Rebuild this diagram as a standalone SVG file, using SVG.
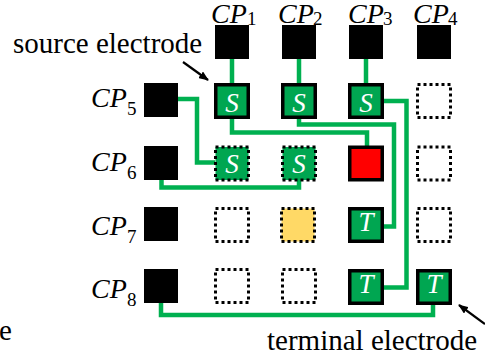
<svg xmlns="http://www.w3.org/2000/svg" width="485" height="358" viewBox="0 0 485 358" font-family="Liberation Serif, Times New Roman, serif">
<style>
.cp{fill:#000}
.lbl{font-style:italic;font-size:28px;fill:#000}
.sub{font-style:normal;font-size:19px;fill:#000}
.txt{font-size:29px;fill:#000}
.el{fill:#00a651;stroke:#000;stroke-width:3.5}
.dot{fill:#fff;stroke:#000;stroke-width:3;stroke-dasharray:3 3}
.dotg{fill:#00a651;stroke:#000;stroke-width:3;stroke-dasharray:3 3}
.doty{fill:#ffd966;stroke:#000;stroke-width:3;stroke-dasharray:3 3}
.red{fill:#ff0000;stroke:#000;stroke-width:3.5}
.st{font-style:italic;font-size:27px;fill:#fff;text-anchor:middle}
.w{fill:none;stroke:#00b050;stroke-width:4.5}
.arr{stroke:#000;stroke-width:2.2;fill:none}
</style>
<defs>
<marker id="ah" markerWidth="10" markerHeight="8" refX="9" refY="4" orient="auto" markerUnits="userSpaceOnUse">
<path d="M0,0 L10,4 L0,8 Z" fill="#000"/>
</marker>
</defs>

<g id="connectors">
<path class="w" d="M232,59 V84"/>
<path class="w" d="M299,59 V84"/>
<path class="w" d="M366,59 V84"/>
<path class="w" d="M178,99 H197 V162.5 H215"/>
<path class="w" d="M232,118 V132.5 H367 V146"/>
<path class="w" d="M299,118 V124.5 H394 V226.5 H383"/>
<path class="w" d="M383,101 H406.5 V287.5 H383"/>
<path class="w" d="M161.5,179 V187.5 H299 V180"/>
<path class="w" d="M161,302 V315 H433 V303"/>
<line class="arr" x1="183" y1="62" x2="208" y2="80" marker-end="url(#ah)"/>
<line class="arr" x1="485" y1="324" x2="459" y2="305" marker-end="url(#ah)"/>
</g>

<g id="CP1"><rect class="cp" x="215" y="25" width="34" height="34"/><text class="lbl" x="211" y="23">CP</text><text class="sub" x="247" y="25">1</text></g>
<g id="CP2"><rect class="cp" x="282" y="25" width="34" height="34"/><text class="lbl" x="278" y="23">CP</text><text class="sub" x="313" y="25">2</text></g>
<g id="CP3"><rect class="cp" x="349" y="25" width="34" height="34"/><text class="lbl" x="348" y="23">CP</text><text class="sub" x="383" y="25">3</text></g>
<g id="CP4"><rect class="cp" x="417" y="25" width="34" height="34"/><text class="lbl" x="413" y="23">CP</text><text class="sub" x="448" y="25">4</text></g>

<g id="CP5"><rect class="cp" x="144" y="83" width="34" height="34"/><text class="lbl" x="91" y="107">CP</text><text class="sub" x="127" y="115">5</text></g>
<g id="CP6"><rect class="cp" x="144" y="146" width="34" height="34"/><text class="lbl" x="91" y="171">CP</text><text class="sub" x="127" y="179">6</text></g>
<g id="CP7"><rect class="cp" x="144" y="207" width="34" height="34"/><text class="lbl" x="91" y="235">CP</text><text class="sub" x="127" y="243">7</text></g>
<g id="CP8"><rect class="cp" x="144" y="269" width="34" height="34"/><text class="lbl" x="91" y="298">CP</text><text class="sub" x="127" y="306">8</text></g>

<g id="S11"><rect class="el" x="215.75" y="84.75" width="32.5" height="32.5"/><text class="st" x="232" y="112">S</text></g>
<g id="S21"><rect class="el" x="282.75" y="84.75" width="32.5" height="32.5"/><text class="st" x="299" y="112">S</text></g>
<g id="S31"><rect class="el" x="349.75" y="84.75" width="32.5" height="32.5"/><text class="st" x="366" y="112">S</text></g>
<g id="E41"><rect class="dot" x="417.5" y="84.5" width="33" height="33"/></g>

<g id="S12"><rect class="dotg" x="215.5" y="147" width="33" height="33"/><text class="st" x="232" y="173">S</text></g>
<g id="S22"><rect class="dotg" x="282.5" y="147" width="33" height="33"/><text class="st" x="299" y="173">S</text></g>
<g id="R32"><rect class="red" x="349.75" y="147.25" width="32.5" height="32.5"/></g>
<g id="E42"><rect class="dot" x="417.5" y="147" width="33" height="33"/></g>

<g id="E13"><rect class="dot" x="215.5" y="208.5" width="33" height="33"/></g>
<g id="Y23"><rect class="doty" x="281.5" y="208.5" width="33" height="33"/></g>
<g id="T33"><rect class="el" x="349.75" y="208.75" width="32.5" height="32.5"/><text class="st" x="366" y="231">T</text></g>
<g id="E43"><rect class="dot" x="417.5" y="208.5" width="33" height="33"/></g>

<g id="E14"><rect class="dot" x="215.5" y="269.5" width="33" height="33"/></g>
<g id="E24"><rect class="dot" x="282.5" y="269.5" width="33" height="33"/></g>
<g id="T34"><rect class="el" x="349.75" y="270.75" width="32.5" height="32.5"/><text class="st" x="366" y="293">T</text></g>
<g id="T44"><rect class="el" x="417.75" y="270.75" width="32.5" height="32.5"/><text class="st" x="434" y="293">T</text></g>

<text class="txt" x="13" y="53">source electrode</text>
<text class="txt" x="267" y="350">terminal electrode</text>
<text class="txt" x="-1" y="340">e</text>
</svg>
